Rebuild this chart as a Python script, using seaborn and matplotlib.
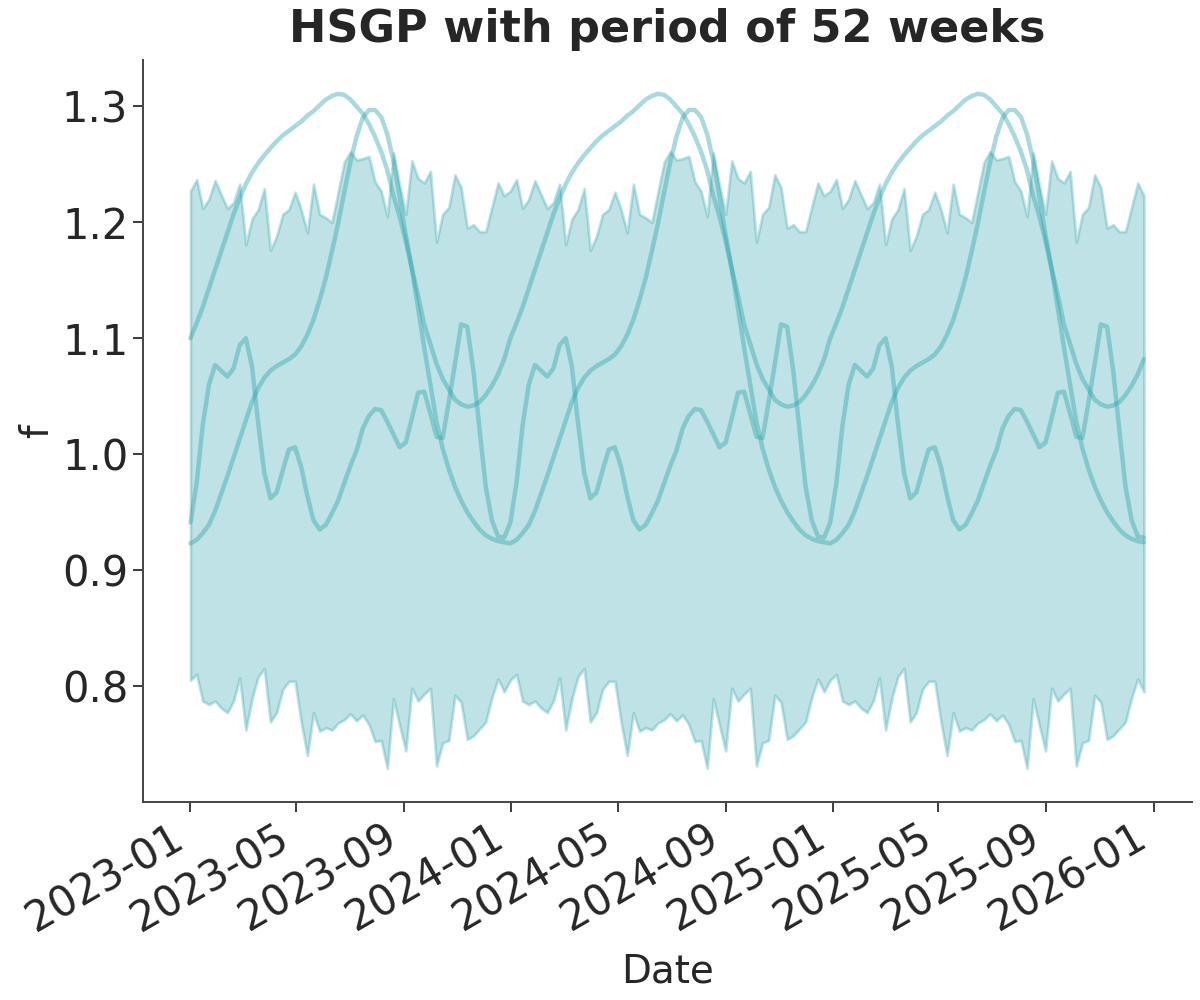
import numpy as np
import pandas as pd
import matplotlib
matplotlib.use('Agg')
import matplotlib.pyplot as plt
import matplotlib.dates as mdates
import seaborn as sns

# one period (52 weekly values) of each series;
# the HSGP has a 52 week period so the same values repeat each year
N_PERIODS = 3

HDI_UPPER = [
    1.227, 1.237, 1.212, 1.220, 1.236, 1.224, 1.212, 1.217, 1.233, 1.181,
    1.203, 1.211, 1.229, 1.176, 1.188, 1.207, 1.211, 1.226, 1.211, 1.191,
    1.233, 1.207, 1.204, 1.200, 1.226, 1.252, 1.261, 1.254, 1.255, 1.257,
    1.235, 1.227, 1.205, 1.260, 1.232, 1.207, 1.253, 1.238, 1.234, 1.244,
    1.183, 1.207, 1.213, 1.241, 1.230, 1.195, 1.198, 1.192, 1.192, 1.213,
    1.234, 1.223,
]
HDI_LOWER = [
    0.805, 0.810, 0.787, 0.784, 0.787, 0.781, 0.777, 0.787, 0.807, 0.762,
    0.789, 0.808, 0.815, 0.769, 0.777, 0.797, 0.804, 0.804, 0.769, 0.740,
    0.777, 0.761, 0.764, 0.762, 0.768, 0.771, 0.776, 0.770, 0.775, 0.767,
    0.752, 0.753, 0.729, 0.789, 0.766, 0.744, 0.798, 0.787, 0.793, 0.798,
    0.731, 0.751, 0.753, 0.792, 0.786, 0.754, 0.757, 0.763, 0.769, 0.790,
    0.806, 0.795,
]
SAMPLE_A = [
    1.100, 1.113, 1.127, 1.143, 1.159, 1.175, 1.191, 1.207, 1.221, 1.233,
    1.243, 1.251, 1.258, 1.264, 1.270, 1.275, 1.279, 1.283, 1.287, 1.292,
    1.296, 1.301, 1.306, 1.309, 1.311, 1.310, 1.306, 1.300, 1.294, 1.285,
    1.274, 1.261, 1.245, 1.223, 1.205, 1.184, 1.160, 1.137, 1.112, 1.095,
    1.078, 1.065, 1.056, 1.047, 1.043, 1.041, 1.042, 1.045, 1.051, 1.059,
    1.069, 1.082,
]
SAMPLE_B = [
    0.923, 0.926, 0.932, 0.939, 0.951, 0.966, 0.981, 0.997, 1.013, 1.029,
    1.045, 1.057, 1.066, 1.072, 1.076, 1.079, 1.082, 1.086, 1.093, 1.103,
    1.116, 1.133, 1.152, 1.175, 1.199, 1.226, 1.252, 1.274, 1.290, 1.297,
    1.297, 1.291, 1.276, 1.253, 1.222, 1.189, 1.160, 1.126, 1.092, 1.060,
    1.028, 1.005, 0.987, 0.972, 0.960, 0.950, 0.942, 0.935, 0.930, 0.927,
    0.925, 0.924,
]
SAMPLE_C = [
    0.941, 0.975, 1.025, 1.060, 1.077, 1.072, 1.067, 1.074, 1.094, 1.100,
    1.076, 1.027, 0.984, 0.962, 0.967, 0.986, 1.004, 1.006, 0.989, 0.964,
    0.943, 0.935, 0.939, 0.949, 0.960, 0.975, 0.990, 1.003, 1.022, 1.033,
    1.039, 1.038, 1.028, 1.017, 1.006, 1.010, 1.031, 1.053, 1.054, 1.035,
    1.015, 1.014, 1.045, 1.078, 1.112, 1.110, 1.072, 1.021, 0.972, 0.943,
    0.929, 0.928,
]

START_DATE = '2023-01-01'
TITLE = 'HSGP with period of 52 weeks'
COLOR = '#2aa2aa'


def plot_hsgp():
    dates = pd.date_range(START_DATE, periods=52 * N_PERIODS, freq='W-SUN')
    upper = np.tile(HDI_UPPER, N_PERIODS)
    lower = np.tile(HDI_LOWER, N_PERIODS)

    sns.set_theme(style='ticks', context='notebook')
    plt.rcParams['font.family'] = ['DejaVu Sans']

    fig, ax = plt.subplots(figsize=(12, 10), dpi=100)
    fig.subplots_adjust(left=0.119, right=0.993, bottom=0.198, top=0.94)

    ax.fill_between(dates, lower, upper, color=COLOR, alpha=0.3, linewidth=2)

    for s in [SAMPLE_A, SAMPLE_B, SAMPLE_C]:
        df = pd.DataFrame({'date': dates, 'f': np.tile(s, N_PERIODS)})
        sns.lineplot(data=df, x='date', y='f', ax=ax, color=COLOR,
                     alpha=0.4, linewidth=3.2)

    ax.xaxis.set_major_locator(mdates.MonthLocator(bymonth=[1, 5, 9]))
    ax.xaxis.set_major_formatter(mdates.DateFormatter('%Y-%m'))
    ax.set_yticks([0.8, 0.9, 1.0, 1.1, 1.2, 1.3])

    ax.set_title(TITLE, fontsize=32, fontweight='bold', pad=13)
    ax.set_xlabel('Date', fontsize=28, labelpad=9)
    ax.set_ylabel('f', fontsize=28)
    ax.tick_params(axis='both', labelsize=30, length=7, width=1.25)
    plt.setp(ax.get_xticklabels(), rotation=30, ha='right')
    for sp in ['left', 'bottom']:
        ax.spines[sp].set_linewidth(1.4)
        ax.spines[sp].set_color('#444444')
    sns.despine(ax=ax)

    fig.savefig('out.png', dpi=100)


if __name__ == '__main__':
    plot_hsgp()
